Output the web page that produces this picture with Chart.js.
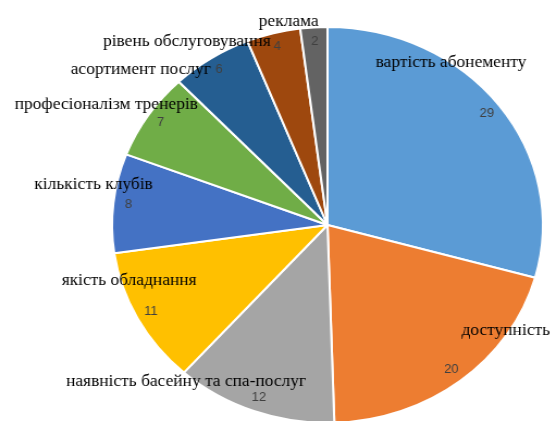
<!DOCTYPE html>
<html>
<head>
<meta charset="utf-8">
<script src="https://cdn.jsdelivr.net/npm/chart.js@4"></script>
<style>
  html, body { margin: 0; padding: 0; background: #fff; overflow: hidden; width: 552px; height: 421px; }
  #wrap { position: absolute; left: 0; top: 0; transform: scaleX(1.088); transform-origin: 0 0; }
</style>
</head>
<body>
<div id="wrap"><canvas id="pieChart" width="602" height="450"></canvas></div>
<script>
const categories = [
  'вартість абонементу',
  'доступність',
  'наявність басейну та спа-послуг',
  'якість обладнання',
  'кількість клубів',
  'професіоналізм тренерів',
  'асортимент послуг',
  'рівень обслуговування',
  'реклама'
];
const values = [29, 20, 12, 11, 8, 7, 6, 4, 2];
const colors = ['#5B9BD5', '#ED7D31', '#A5A5A5', '#FFC000', '#4472C4', '#70AD47', '#255E91', '#9E480E', '#636363'];

// where each category name sits relative to its value label
const labelOffsets = [[-33, -51], [50, -39], [-67, -16], [-20, -31], [-32, -20], [-50, -18], [-72, 0], [-83, -5], [-24, -19]];

const sliceLabels = {
  id: 'sliceLabels',
  afterDatasetsDraw(chart) {
    const ctx = chart.ctx;
    const arcs = chart.getDatasetMeta(0).data;
    ctx.save();
    ctx.textAlign = 'center';
    ctx.textBaseline = 'middle';
    arcs.forEach((arc, i) => {
      const mid = (arc.startAngle + arc.endAngle) / 2;
      const r = arc.outerRadius * 0.93;
      const vx = arc.x + Math.cos(mid) * r;
      const vy = arc.y + Math.sin(mid) * r;
      ctx.font = '12px "Liberation Sans", Arial, sans-serif';
      ctx.fillStyle = '#404040';
      ctx.fillText(values[i], vx, vy);
      ctx.font = '16px "Liberation Serif", "Times New Roman", serif';
      ctx.fillStyle = '#000';
      ctx.fillText(categories[i], vx + labelOffsets[i][0], vy + labelOffsets[i][1]);
    });
    ctx.restore();
  }
};

new Chart(document.getElementById('pieChart').getContext('2d'), {
  type: 'pie',
  data: {
    labels: categories,
    datasets: [{
      data: values,
      backgroundColor: colors,
      borderColor: '#fff',
      borderWidth: 2,
      radius: 198
    }]
  },
  options: {
    responsive: false,
    animation: false,
    devicePixelRatio: 1,
    layout: { padding: 0 },
    plugins: {
      legend: { display: false },
      tooltip: { enabled: false }
    }
  },
  plugins: [sliceLabels]
});
</script>
</body>
</html>
